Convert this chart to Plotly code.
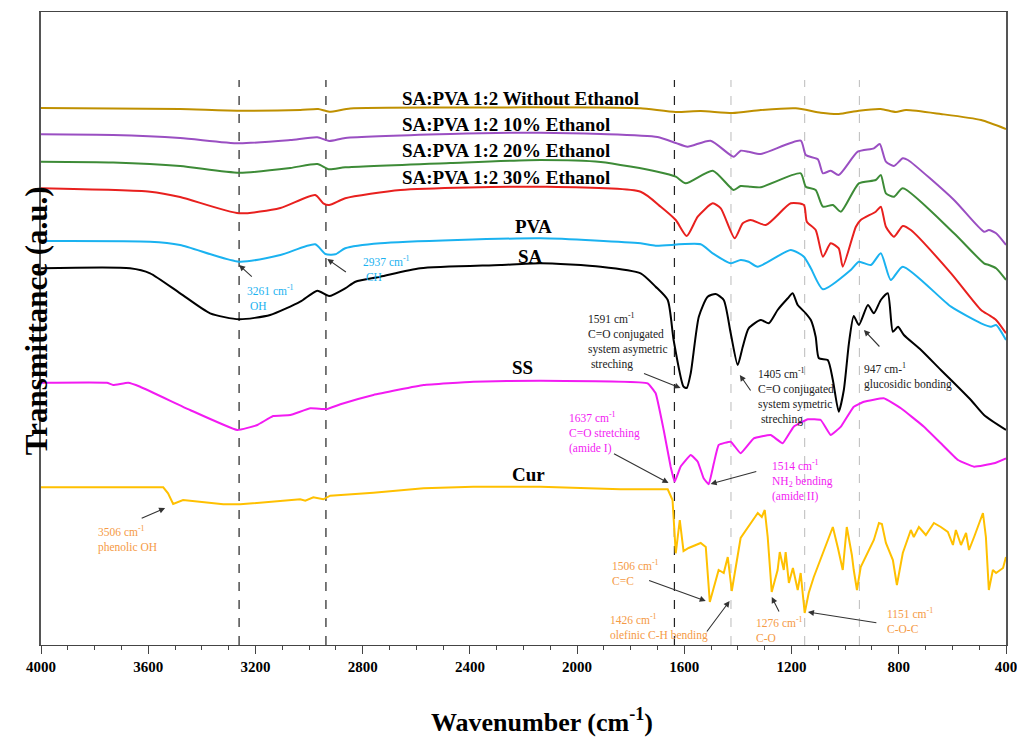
import plotly.graph_objects as go

# ---------------- data (wavenumber cm-1, transmittance a.u.) ----------------
wo_w = [4000, 3731, 3481, 3261, 3033, 2966, 2925, 2846, 2473, 1912, 1763, 1632, 1539, 1420, 1315, 1184,
        1091, 1024, 949, 867, 811, 773, 643, 493, 400]
wo_t = [537, 536.5, 536, 534.3, 535, 536, 533.3, 536.5, 537.5, 537.5, 536.7, 533, 534, 532, 535, 536.7,
        532.3, 531, 534.3, 536, 533, 535, 531, 525, 516]

e10_w = [4000, 3731, 3481, 3261, 3070, 2969, 2925, 2865, 2473, 2137, 1912, 1700, 1632, 1588, 1502, 1416,
         1390, 1360, 1315, 1166, 1147, 1102, 1083, 1054, 1024, 953, 893, 871, 848, 818, 785, 766, 594,
         482, 464, 437, 400]
e10_t = [510.7, 510, 507, 501.7, 505, 507.7, 504, 507, 511, 512.3, 511, 508, 502, 498.3, 504.3, 488.3,
         494.3, 493.3, 491, 504.3, 490, 485.7, 471.7, 474.3, 470, 493.3, 496.7, 501, 483.3, 479, 486.7,
         485, 445, 413.3, 415, 411.7, 400]

e20_w = [4000, 3731, 3481, 3261, 3070, 2969, 2925, 2865, 2473, 2137, 1912, 1700, 1632, 1595, 1494, 1416,
         1390, 1352, 1315, 1166, 1147, 1110, 1083, 1046, 1016, 949, 886, 867, 848, 818, 785, 594, 482,
         464, 437, 400]
e20_t = [483.3, 482.5, 479, 472.3, 477, 481, 475.7, 477.7, 482, 485, 483, 473.3, 468.3, 461.7, 474.3,
         455, 459, 458.3, 457.7, 471.7, 458.3, 455, 438.3, 440, 433.3, 461.7, 465, 470, 451.7, 448.3,
         456.7, 411.7, 381.7, 380, 376.7, 365]

e30_w = [4000, 3593, 3481, 3261, 3107, 2977, 2947, 2925, 2865, 2659, 2137, 1763, 1688, 1632, 1591, 1550,
         1494, 1464, 1412, 1382, 1352, 1296, 1203, 1154, 1143, 1110, 1083, 1054, 1024, 1009, 960, 942,
         886, 867, 848, 818, 785, 755, 605, 493, 464, 437, 400]
e30_t = [456.7, 453.3, 448, 431.7, 437, 450, 441.7, 440, 446.7, 455, 458.3, 453.3, 438.3, 425, 409,
         428.3, 441.7, 436.7, 406.7, 421.7, 425, 420, 441.7, 440, 423.3, 415, 388.3, 401.7, 396.7,
         378.3, 418.3, 425, 433.3, 438.3, 418.3, 408.3, 419, 415, 371.7, 335, 330, 325, 311.7]

pva_w = [4000, 3593, 3481, 3261, 3107, 2977, 2939, 2902, 2865, 2734, 2137, 1763, 1707, 1539, 1494, 1427,
         1390, 1360, 1326, 1203, 1154, 1128, 1083, 979, 949, 904, 867, 830, 785, 605, 493, 456, 437, 400]
pva_t = [404, 403.3, 400, 383.3, 390, 400.7, 391, 390.7, 396.7, 401.7, 406.7, 401.7, 399.3, 400.7,
         391.7, 381.7, 385, 383.3, 378.3, 395, 388.3, 376.7, 355.7, 375, 383.3, 380, 391.7, 365, 378.3,
         338.3, 321.7, 318.3, 320, 305]

sa_w = [4000, 3668, 3593, 3481, 3369, 3261, 3145, 3033, 2969, 2925, 2865, 2827, 2734, 2585, 2286, 2137,
        1912, 1763, 1707, 1662, 1640, 1603, 1591, 1576, 1546, 1513, 1483, 1453, 1427, 1401, 1382, 1360,
        1315, 1285, 1252, 1214, 1196, 1177, 1147, 1128, 1110, 1098, 1065, 1046, 1024, 1005, 986, 968,
        949, 915, 893, 867, 841, 822, 803, 781, 717, 643, 605, 531, 482, 400]
sa_t = [376.7, 376.7, 371.7, 351.7, 331.7, 325.7, 330, 343.3, 354.3, 349, 356.7, 363.3, 368.3, 376.7,
        380, 381.7, 378.3, 371.7, 358.3, 345, 305, 258.3, 257, 272, 328.3, 348.3, 351, 345, 311.7, 280,
        298.3, 316.7, 325, 321.7, 335, 346.7, 351.7, 340, 331.7, 325, 308.3, 286.7, 285, 265, 233.3,
        255, 301.7, 329, 320, 340, 331.7, 345, 351.7, 313.3, 318.3, 310, 295, 275, 265, 245, 230, 215]

ss_w = [4000, 3754, 3731, 3675, 3630, 3444, 3268, 3193, 3134, 3070, 2995, 2932, 2883, 2760, 2573, 2387,
        2137, 1737, 1707, 1677, 1651, 1636, 1614, 1576, 1550, 1528, 1509, 1490, 1472, 1427, 1390, 1341,
        1278, 1233, 1192, 1139, 1091, 1054, 1016, 968, 930, 856, 792, 706, 643, 579, 519, 445, 400]
ss_t = [262.3, 262.3, 260, 262.3, 258.3, 235, 215, 220, 229, 230, 236.7, 236, 240.7, 250, 260, 263.3,
        264.3, 261.7, 251.7, 215, 178.3, 163.3, 178.3, 190, 183.3, 166.7, 160.7, 181.7, 200, 203.3,
        191.7, 206.7, 210, 201.7, 218.3, 225.7, 225, 210, 218.3, 238.3, 243.3, 246.7, 236.7, 218.3,
        201.7, 185, 178.3, 181.7, 186.7]

cur_w = [4000, 3544, 3526, 3507, 3470, 3320, 3257, 3134, 3033, 3014, 2984, 2947, 2921, 2760, 2573, 2387,
         2137, 1838, 1662, 1644, 1632, 1617, 1603, 1584, 1539, 1520, 1505, 1472, 1453, 1438, 1423, 1390,
         1326, 1311, 1300, 1289, 1274, 1252, 1244, 1229, 1222, 1210, 1195, 1177, 1166, 1151, 1136, 1117,
         1083, 1046, 1027, 1009, 994, 975, 968, 956, 942, 893, 874, 863, 848, 822, 807, 785, 755, 744,
         725, 699, 669, 643, 617, 598, 587, 568, 549, 538, 519, 486, 475, 464, 449, 437, 411, 400]
cur_t = [157.7, 157.7, 151.7, 141, 145, 140.7, 140.7, 143.3, 145.7, 144.3, 147.7, 145.7, 149.3, 152.3,
         156.7, 158.3, 158.3, 155.7, 155.7, 145, 91.7, 125, 94, 97, 102, 98, 43, 75, 72, 88, 54, 107,
         132, 128, 135, 108, 53, 75, 93, 75, 93, 62, 77, 55, 72, 32, 52, 68, 92, 118, 97, 75, 118, 90,
         75, 55, 78, 105, 122, 121, 102, 85, 60, 92, 115, 108, 118, 110, 122, 118, 113, 100, 115, 100,
         112, 95, 108, 132, 108, 55, 75, 72, 77, 88]

series_names = ["SA:PVA 1:2 Without Ethanol", "SA:PVA 1:2 10% Ethanol", "SA:PVA 1:2 20% Ethanol",
                "SA:PVA 1:2 30% Ethanol", "PVA", "SA", "SS", "Cur"]

marker_lines_dark = [3261, 2937, 1637]
marker_lines_grey = [1426, 1151, 947]

# ---------------- figure ----------------
SERIF = "Liberation Serif, Times New Roman, serif"
colors = ["#BF9000", "#9A4FC2", "#3D8B37", "#E8201E", "#1AB2F0", "#000000", "#F21BF2", "#FFC000"]
xs = [wo_w, e10_w, e20_w, e30_w, pva_w, sa_w, ss_w, cur_w]
ys = [wo_t, e10_t, e20_t, e30_t, pva_t, sa_t, ss_t, cur_t]
smooth = [0.6, 0.6, 0.6, 0.6, 0.6, 0.6, 0.3, 0]

fig = go.Figure()
for name, c, x, y, s in zip(series_names, colors, xs, ys, smooth):
    shape = "linear" if s == 0 else "spline"
    line = dict(color=c, width=2, shape=shape)
    if s:
        line["smoothing"] = s
    fig.add_trace(go.Scatter(x=x, y=y, mode="lines", name=name, showlegend=False, line=line))

for w in marker_lines_dark:
    fig.add_shape(type="line", x0=w, x1=w, y0=0, y1=565, xref="x", yref="y",
                  line=dict(color="#222222", width=1.2, dash="dash"), layer="below")
for w in marker_lines_grey:
    fig.add_shape(type="line", x0=w, x1=w, y0=0, y1=565, xref="x", yref="y",
                  line=dict(color="#BBBBBB", width=1, dash="dash"), layer="below")

# series labels
lab_pos = [(2659, 547, "left"), (2659, 521, "left"), (2659, 495, "left"), (2659, 468, "left"),
           (2163, 419, "center"), (2174, 389, "center"), (2204, 278, "center"), (2181, 171, "center")]
for name, (x, y, xa) in zip(series_names, lab_pos):
    fig.add_annotation(x=x, y=y, text="<b>" + name + "</b>", showarrow=False, xanchor=xa,
                       yanchor="middle", font=dict(family=SERIF, size=19, color="black"))

# peak annotations: text (x, y top-left), colour
ORANGE = "#F59A45"
CYAN = "#1AB2F0"
MAG = "#F21BF2"
notes = [
    (3238, 364, "3261 cm<sup>-1</sup><br> OH", CYAN),
    (2805, 393, "2937 cm<sup>-1</sup><br> CH", CYAN),
    (3795, 123, "3506 cm<sup>-1</sup><br>phenolic OH", ORANGE),
    (1965, 336, "1591 cm<sup>-1</sup><br>C=O conjugated<br>system asymetric<br> streching", "#222222"),
    (1334, 281, "1405 cm<sup>-1</sup><br>C=O conjugated<br>system symetric<br> streching", "#222222"),
    (938, 286, "947 cm-<sup>1</sup><br>glucosidic bonding", "#222222"),
    (2036, 237, "1637 cm<sup>-1</sup><br>C=O stretching<br>(amide I)", MAG),
    (1281, 189, "1514 cm<sup>-1</sup><br>NH<sub>2</sub> bending<br>(amide II)", MAG),
    (1879, 89, "1506 cm<sup>-1</sup><br>C=C", ORANGE),
    (1886, 35, "1426 cm<sup>-1</sup><br>olefinic C-H bending", ORANGE),
    (1341, 32, "1276 cm<sup>-1</sup><br>C-O", ORANGE),
    (852, 41, "1151 cm<sup>-1</sup><br>C-O-C", ORANGE),
]
for x, y, t, c in notes:
    fig.add_annotation(x=x, y=y, text=t, showarrow=False, xanchor="left", yanchor="top", align="left",
                       font=dict(family=SERIF, size=11.5, color=c))

# arrows: (tail w, tail t, head w, head t)
arrows = [
    (3208, 367, 3261, 380), (2857, 372, 2932, 386), (3630, 126, 3537, 137),
    (1756, 272, 1614, 257), (1349, 253, 1393, 270), (867, 297, 930, 315),
    (1868, 192, 1659, 162), (1326, 174, 1502, 161), (1737, 65, 1520, 44),
    (1520, 12, 1431, 44), (1244, 32, 1274, 48), (878, 22, 1139, 33),
]
for tx, ty, hx, hy in arrows:
    fig.add_annotation(x=hx, y=hy, ax=tx, ay=ty, xref="x", yref="y", axref="x", ayref="y",
                       text="", showarrow=True, arrowhead=2, arrowsize=1.1, arrowwidth=1.1,
                       arrowcolor="#333333")

# axis titles
fig.add_annotation(xref="paper", yref="paper", x=-0.024, y=0.512, text="<b>Transmittance (a.u.)</b>",
                   textangle=-90, showarrow=False, font=dict(family=SERIF, size=31, color="black"))
fig.add_annotation(xref="paper", yref="paper", x=0.519, y=-0.12, text="<b>Wavenumber (cm<sup>-1</sup>)</b>",
                   showarrow=False, yanchor="middle", font=dict(family=SERIF, size=26, color="black"))

# the page body adds an 8px offset; size the figure so the plot area lands where the reference has it
fig.update_layout(
    width=1017, height=732, autosize=False,
    margin=dict(l=33, r=19, t=4, b=95),
    paper_bgcolor="white", plot_bgcolor="white",
    xaxis=dict(range=[4000, 400], tickmode="linear", tick0=400, dtick=400, ticks="outside", ticklen=8,
               tickcolor="#444444", showline=True, linecolor="#444444", linewidth=1.2, mirror=True,
               showgrid=False, zeroline=False,
               tickfont=dict(family=SERIF, size=15, color="black"),
               minor=dict(dtick=100, ticks="outside", ticklen=4, tickcolor="#444444", showgrid=False)),
    yaxis=dict(range=[0, 633], showticklabels=False, ticks="", showgrid=False, zeroline=False,
               showline=True, linecolor="#555555", linewidth=1.5, mirror=True),
)
fig.update_xaxes(tickprefix="<b>", ticksuffix="</b>")

fig.write_html("out.html")
